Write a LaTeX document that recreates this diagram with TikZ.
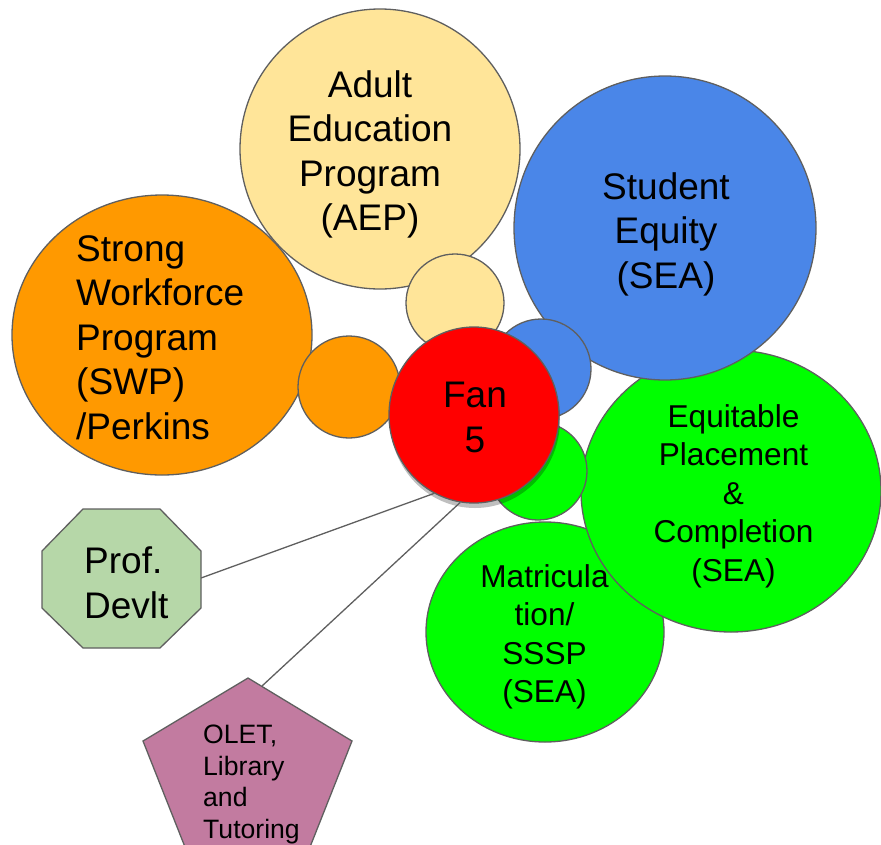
\documentclass[tikz,border=0pt]{standalone}
\usepackage{fontspec}
\setmainfont{Liberation Sans}
\usetikzlibrary{shapes.geometric,shadows}
\definecolor{edge}{HTML}{5F5F5F}
\definecolor{swporange}{HTML}{FF9900}
\definecolor{aepyellow}{HTML}{FFE599}
\definecolor{seablue}{HTML}{4A86E8}
\definecolor{seagreen}{HTML}{00FF00}
\definecolor{devgreen}{HTML}{B6D7A8}
\definecolor{oletpink}{HTML}{C27BA0}
\tikzset{
  bubble/.style={ellipse, draw=edge, line width=1.3pt, inner sep=0pt},
  bigtext/.style={font=\fontsize{37}{44.5}\selectfont, inner sep=0pt},
  midtext/.style={font=\fontsize{31.6}{38.6}\selectfont, inner sep=0pt},
  smalltext/.style={font=\fontsize{26.6}{31.5}\selectfont, inner sep=0pt},
  link/.style={draw=edge, line width=1.3pt}
}
\begin{document}
\begin{tikzpicture}[x=1pt,y=-1pt]
	\useasboundingbox (0,0) rectangle (881,844);
	%% big bubbles
	\node[bubble, fill=swporange, minimum width=300pt, minimum height=280pt] (swp) at (162,335) {};
	\node[bubble, fill=aepyellow, minimum width=280pt, minimum height=280pt] (aep) at (380,149) {};
	\node[bubble, fill=seagreen, minimum width=238pt, minimum height=220pt] (matric) at (545,632) {};
	\node[bubble, fill=seagreen, minimum width=300pt, minimum height=282pt] (equit) at (731,491) {};
	\node[bubble, fill=seablue, minimum width=302pt, minimum height=304pt] (sea) at (665,228) {};
	%% small bubbles round the centre
	\node[bubble, fill=swporange, minimum size=102pt] (swpsmall) at (349,387) {};
	\node[bubble, fill=aepyellow, minimum size=98pt] (aepsmall) at (455,303) {};
	\node[bubble, fill=seablue, minimum size=100pt] (seasmall) at (541,369) {};
	\node[bubble, fill=seagreen, minimum size=98pt] (greensmall) at (538,471) {};
	\node[bubble, fill=red, minimum width=170pt, minimum height=176pt,
	      drop shadow={shadow xshift=1pt, shadow yshift=-5pt, opacity=0.25, fill=black}] (fan) at (474,415) {};
	%% side shapes
	\coordinate (profE) at (201,578);
	\coordinate (oletT) at (262,686);
	\draw[link] (fan.243) -- (profE);
	\draw[link] (fan.261) -- (oletT);
	\filldraw[fill=devgreen, draw=edge, line width=1.3pt]
	  (83,509) -- (160,509) -- (201,551) -- (201,608) -- (160,648) -- (83,648) -- (42,608) -- (42,551) -- cycle;
	\filldraw[fill=oletpink, draw=edge, line width=1.3pt]
	  (248,678) -- (352,741) -- (310,847) -- (185,847) -- (143,741) -- cycle;
	%% texts
	\node[bigtext, anchor=north west, align=left] (swptext) at (76,235) {Strong\\Workforce\\Program\\(SWP)\\/Perkins};
	\node[bigtext, anchor=north, align=center] (aeptext) at (370,70) {Adult\\Education\\Program\\(AEP)};
	\node[bigtext, anchor=north, align=center] (seatext) at (666,172) {Student\\Equity\\(SEA)};
	\node[bigtext, anchor=north, align=center] (fantext) at (475,382) {Fan\\5};
	\node[bigtext, anchor=north west, align=left] (prof) at (84,547) {Prof.\\Devlt};
	\node[midtext, anchor=north, align=center] (equittext) at (733.5,404) {Equitable\\Placement\\\&\\Completion\\(SEA)};
	\node[midtext, anchor=north, align=center] (matrictext) at (544.5,564) {Matricula\\tion/\\SSSP\\(SEA)};
	\node[smalltext, anchor=north west, align=left] (olet) at (203,725) {OLET,\\Library\\and\\Tutoring};
\end{tikzpicture}
\end{document}
